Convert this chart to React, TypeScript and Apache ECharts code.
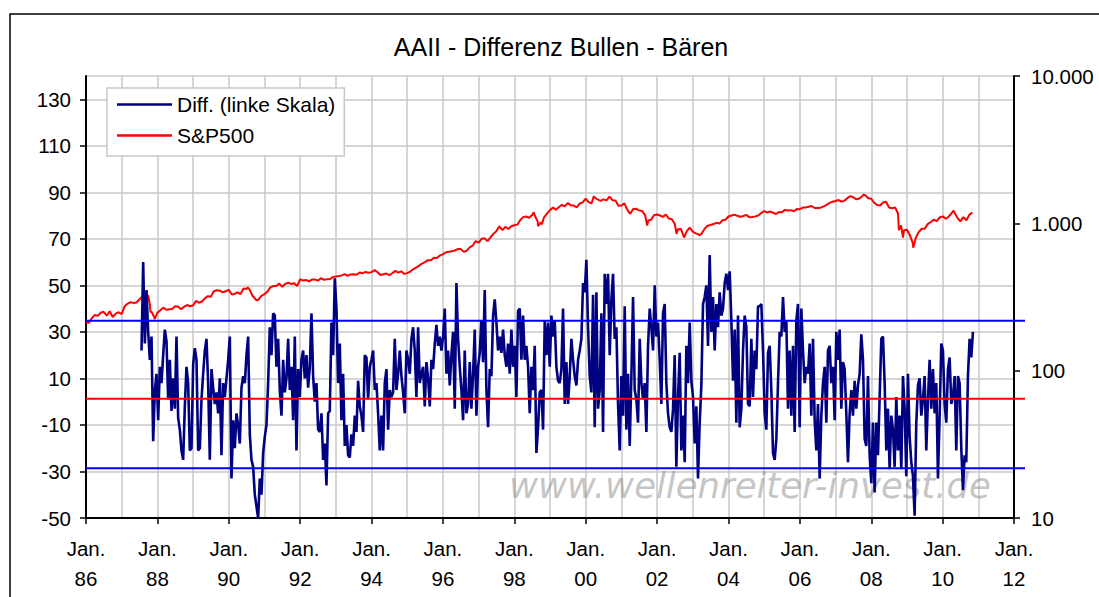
import React, { useEffect, useRef } from "react";
import * as echarts from "echarts";

const chartTitle = "AAII - Differenz Bullen - Bären";
const legendNames = ["Diff. (linke Skala)", "S&P500"];
const watermark = "www.wellenreiter-invest.de";

// AAII bull-bear spread readings (left scale), every ~17 days from the start date
const diffStart = "1987-07-23";
const diffStepDays = 17.05;
const diff1987_1993 = [
  22, 60, 25, 48, 30, 18, 28, -17, 5, 12,
  -8, 15, 8, 20, 31, 26, 1, 18, -4, 10,
  -3, 28, -7, -12, -21, -25, -2, 15, 8, -21,
  -20, 16, 23, 18, -21, -20, 1, 12, 22, 27,
  8, -25, 14, 6, -1, 4, -5, 10, -23, 8,
  2, 10, 18, 28, -33, -8, -20, -5, -10, -18,
  6, 11, 8, 20, 28, -14, -25, -28, -40, -45,
  -50, -33, -40, -22, -15, -10, 8, 32, 20, 38,
  37, 15, 27, 5, -6, 18, 4, 10, 27, 5,
  15, -8, 28, -21, 14, 2, 18, 22, 10, 20,
  6, 15, 38, 11, 0, 8, -12, -13, -5, -25,
  -18, -36, -5, -4, 34, 20, 53, 40, 8,
];
const diff1993_1999 = [
  25, -8, 12, -19, -10, -23, -24, -14, -19, -6,
  -13, 9, -2, -6, -13, 20, 19, 1, 15, 18,
  22, 5, 8, -5, -21, -6, -21, 8, 14, -12,
  5, 2, 4, 27, 5, 12, 22, 11, 4, -5,
  22, 18, 12, 27, 32, 22, 2, 32, 8, 12,
  15, -2, 17, 10, -2, 18, 14, 25, 33, 24,
  28, 22, 28, 40, 12, 22, 7, 20, 30, -3,
  51, 27, 15, 5, -8, 22, -5, -1, 17, -3,
  12, 31, -6, 15, 21, 35, 17, 48, 5, -11,
  14, 11, 37, 44, 34, 22, 28, 21, 31, 20,
  15, 25, 12, 31, 15, 24, 2, 39, 40, 18,
  37, 18, 24, 15, -5, 15, 5, 24, -22, -11,
  4, 5, -12, 35, 20, 34,
];
const diff1999_2005 = [
  15, 37, 28, 35, 15, 9, 8, 14, 40, -1,
  17, -1, 11, 27, 18, 11, 7, 18, 22, 27,
  51, 47, 61, 32, 11, 4, 46, -11, 47, -3,
  5, 38, -13, 55, 42, 55, 20, 44, 55, 27,
  32, -1, -21, 11, -6, 41, -12, 12, -19, 11,
  45, 5, 1, -9, 27, 8, 1, 8, -13, 24,
  40, 32, 22, 50, 28, 34, 18, -1, 38, 42,
  8, -5, -11, -13, -3, 20, -28, 2, 21, -21,
  -6, -26, 24, 8, 34, 9, 2, -18, -2, -33,
  -9, 7, 42, 45, 50, 24, 63, 30, 45, 22,
  42, 32, 47, 37, 40, 51, 55, 48, 56, 35,
  9, 31, -9, 37, -11, -3, 22, 37, 32, -1,
  -2, 27, 2, 22, 14, 41,
];
const diff2005_2010 = [
  41, 42, 22, -5, -12, 21, 24, 5, -22, -25,
  -16, 8, 30, 28, 45, 30, 35, -3, 22, -6,
  24, -13, 35, 42, -11, 40, 22, 8, 15, 12,
  25, -6, 27, -8, -21, -1, -33, -6, 8, 15,
  -9, 22, 24, 8, 15, -8, 30, 18, 31, -3,
  17, 14, -5, -26, -5, 5, -6, 9, -3, 7,
  12, 29, 18, -16, -19, 11, -23, -35, -9, -39,
  -9, -23, 2, 27, 28, 8, -21, -3, -29, -6,
  -12, -28, 2, -21, -6, -29, 11, -3, -32, 12,
  -15, -26, -32, -49, -9, 7, 10, -6, 1, 11,
  -21, 1, 18, -3, 14, -5, 8, -33, -6, 25,
  22, -1, -9, 14, 19, -1, 2, 11, -21, 11,
  8, -20, -38, -23, -26, 11, 27, 19, 30,
];

// S&P 500 (right, log scale): value at the start of each month
const spx1986_1990 = [
  211.3, 211.8, 226.9, 238.9, 235.5, 247.4, 250.8, 236.1, 252.9, 231.3, 243.9, 249.2,
  242.2, 274.1, 284.2, 291.7, 288.4, 290.1, 304.0, 318.7, 329.8, 321.8, 251.8, 230.3,
  247.1, 257.1, 267.8, 258.9, 261.3, 262.2, 273.5, 272.0, 261.5, 271.9, 279.0, 273.7,
  277.7, 297.5, 288.9, 294.9, 309.6, 320.5, 318.0, 346.1, 351.5, 349.2, 340.4, 346.0,
  353.4, 329.1, 331.9, 339.9, 330.8, 361.2, 358.0, 356.2, 322.6, 306.1, 304.0, 322.2,
];
const spx1991_1995 = [
  330.2, 343.9, 367.1, 375.2, 375.3, 389.8, 371.2, 387.8, 395.4, 387.9, 392.5, 375.2,
  417.1, 408.8, 412.7, 403.7, 414.9, 415.4, 408.1, 424.2, 414.0, 417.8, 418.7, 431.4,
  435.7, 438.8, 443.4, 451.7, 440.2, 450.2, 451.0, 448.1, 463.6, 458.9, 467.8, 461.8,
  466.5, 481.6, 467.1, 445.8, 450.9, 456.5, 444.3, 458.3, 475.5, 462.7, 472.4, 453.7,
  459.3, 470.4, 487.4, 500.7, 514.7, 533.4, 544.8, 562.1, 561.9, 584.4, 581.5, 605.4,
];
const spx1996_2000 = [
  615.9, 636.0, 640.4, 645.5, 654.2, 669.1, 670.6, 639.9, 652.0, 687.3, 705.3, 757.0,
  740.7, 786.2, 790.8, 757.1, 801.3, 848.3, 885.1, 954.3, 899.5, 947.3, 914.6, 955.4,
  970.4, 980.3, 1049.3, 1101.8, 1111.8, 1090.8, 1133.8, 1120.7, 957.3, 1017.0, 1098.7, 1163.6,
  1229.2, 1279.6, 1238.3, 1286.4, 1335.2, 1301.8, 1372.7, 1328.7, 1320.4, 1282.7, 1362.9, 1388.9,
  1469.3, 1394.5, 1366.4, 1498.6, 1452.4, 1420.6, 1454.6, 1430.8, 1517.7, 1436.5, 1429.4, 1315.2,
];
const spx2001_2005 = [
  1320.3, 1366.0, 1239.9, 1160.3, 1249.5, 1255.8, 1224.4, 1211.2, 1133.6, 1040.9, 1059.8, 1139.5,
  1148.1, 1130.2, 1106.7, 1147.4, 1076.9, 1067.1, 989.8, 911.6, 916.1, 815.3, 885.8, 936.3,
  879.8, 855.7, 841.2, 848.2, 916.9, 963.6, 974.5, 990.3, 1008.0, 996.0, 1050.7, 1058.2,
  1111.9, 1131.1, 1144.9, 1126.2, 1107.3, 1120.7, 1140.8, 1101.7, 1104.2, 1114.6, 1130.2, 1173.8,
  1211.9, 1181.3, 1203.6, 1180.6, 1156.9, 1191.5, 1191.3, 1234.2, 1220.3, 1228.8, 1207.0, 1249.5,
];
const spx2006_2010 = [
  1248.3, 1280.1, 1280.7, 1294.9, 1310.6, 1270.1, 1270.2, 1276.7, 1303.8, 1335.9, 1377.9, 1400.6,
  1418.3, 1438.2, 1406.8, 1420.9, 1482.4, 1530.6, 1503.4, 1455.3, 1474.0, 1526.8, 1549.4, 1481.1,
  1468.4, 1378.6, 1330.6, 1322.7, 1385.6, 1400.4, 1280.0, 1267.4, 1282.8, 1166.4, 968.8, 896.2,
  903.3, 825.9, 735.1, 797.9, 872.8, 919.1, 919.3, 987.5, 1020.6, 1057.1, 1036.2, 1095.6,
  1115.1, 1073.9, 1104.5, 1169.4, 1186.7, 1089.4, 1030.7, 1101.6, 1049.3, 1141.2, 1183.3,
];
const spxWeeklyExtremes: [string, number][] = [
  ["1987-08-21", 335.9], ["1987-10-16", 282.7], ["1987-10-23", 248.2], ["1987-12-04", 223.9],
  ["1990-07-13", 367.3], ["1990-10-12", 300.0], ["1998-07-17", 1186.8], ["1998-08-28", 1027.1],
  ["1998-10-09", 984.4], ["2000-03-24", 1527.5], ["2001-09-21", 965.8], ["2002-07-19", 847.8],
  ["2002-10-04", 800.6], ["2003-03-07", 828.9], ["2007-10-12", 1561.8], ["2008-10-10", 899.2],
  ["2008-11-21", 800.0], ["2009-03-06", 683.4], ["2010-04-23", 1217.3], ["2010-07-02", 1022.6],
];

// horizontal reference lines on the left scale: upper band, mean, lower band
const bandLevels = [34.8, 1.3, -28.6];
const bandColors = ["#0000FF", "#FF0000", "#0000FF"];

const leftAxis = { min: -50, max: 140, step: 20 };
const rightAxis = { min: 10, max: 10000 };
const xYears = { start: 1986, end: 2012, labelStep: 2 };

const FONT = "'Liberation Sans', Arial, sans-serif";
const DAY = 86400000;

function buildDiff() {
  const all = [...diff1987_1993, ...diff1993_1999, ...diff1999_2005, ...diff2005_2010];
  const t0 = Date.parse(diffStart + "T00:00:00Z");
  return all.map((v, i) => [t0 + i * diffStepDays * DAY, v]);
}

function buildSpx() {
  const groups: [number, number[]][] = [
    [1986, spx1986_1990],
    [1991, spx1991_1995],
    [1996, spx1996_2000],
    [2001, spx2001_2005],
    [2006, spx2006_2010],
  ];
  const pts: [number, number][] = [];
  groups.forEach(([y0, arr]) => {
    arr.forEach((v, i) => {
      pts.push([Date.UTC(y0 + Math.floor(i / 12), i % 12, 1), v]);
    });
  });
  spxWeeklyExtremes.forEach(([d, v]) => pts.push([Date.parse(d + "T00:00:00Z"), v]));
  pts.sort((a, b) => a[0] - b[0]);
  return pts;
}

function germanThousands(v: number) {
  return String(Math.round(v)).replace(/\B(?=(\d{3})+(?!\d))/g, ".");
}

export default function App() {
  const ref = useRef<HTMLDivElement>(null);

  useEffect(() => {
    document.body.style.margin = "0";
    if (!ref.current) return;
    const chart = echarts.init(ref.current, undefined, { renderer: "svg" });
    const xMin = Date.UTC(xYears.start, 0, 1);
    const xMax = Date.UTC(xYears.end, 0, 1);
    const xInterval = xYears.labelStep * 365.25 * DAY;
    const gridColor = "#c8c8c8";

    const option: any = {
      animation: false,
      backgroundColor: "#ffffff",
      textStyle: { fontFamily: FONT },
      grid: [
        { left: 86, right: 85, top: 76, bottom: 79, containLabel: false, outerBoundsMode: "none" },
        { left: 86, right: 74, top: 76, bottom: 79, containLabel: false, outerBoundsMode: "none" },
      ],
      legend: {
        show: true,
        data: legendNames.map((n) => ({ name: n, icon: "rect" })),
        orient: "vertical",
        left: 107,
        top: 88,
        itemWidth: 55,
        itemHeight: 2.5,
        itemGap: 10,
        padding: [6, 9, 10, 10],
        backgroundColor: "#ffffff",
        borderColor: "#c8c8c8",
        borderWidth: 1.5,
        selectedMode: false,
        textStyle: { fontSize: 21, color: "#000", fontFamily: FONT, lineHeight: 20 },
      },
      xAxis: [
        {
          type: "value",
          gridIndex: 0,
          min: xMin,
          max: xMax,
          interval: xInterval,
          axisLine: { show: true, onZero: false, lineStyle: { color: "#000", width: 2 } },
          axisTick: { show: true, inside: false, length: 6, lineStyle: { color: "#000", width: 1.5 } },
          axisLabel: {
            show: true,
            color: "#000",
            fontSize: 20.5,
            fontFamily: FONT,
            lineHeight: 30,
            margin: 15,
            showMinLabel: true,
            showMaxLabel: true,
            hideOverlap: false,
            formatter: (v: number) => {
              const y = new Date(v + DAY / 2).getUTCFullYear();
              return "Jan.\n" + String(y % 100).padStart(2, "0");
            },
          },
          splitLine: { show: true, lineStyle: { color: gridColor, width: 1.5 } },
          minorTick: { show: false, splitNumber: 2 },
          minorSplitLine: { show: true, lineStyle: { color: gridColor, width: 1.5 } },
        },
        { type: "value", gridIndex: 1, min: 0, max: 1, show: false },
      ],
      yAxis: [
        {
          type: "value",
          gridIndex: 0,
          position: "left",
          min: leftAxis.min,
          max: leftAxis.max,
          interval: leftAxis.step,
          axisLine: { show: true, onZero: false, lineStyle: { color: "#000", width: 2 } },
          axisTick: { show: true, inside: false, length: 6, lineStyle: { color: "#000", width: 1.5 } },
          axisLabel: {
            color: "#000",
            fontSize: 20.5,
            fontFamily: FONT,
            margin: 15,
            showMaxLabel: false,
            formatter: (v: number) => (v === leftAxis.max ? "" : String(v)),
          },
          splitLine: { show: true, lineStyle: { color: gridColor, width: 1.5 } },
        },
        {
          type: "log",
          logBase: 10,
          gridIndex: 0,
          position: "right",
          min: rightAxis.min,
          max: rightAxis.max,
          axisLine: { show: true, onZero: false, lineStyle: { color: "#000", width: 2 } },
          axisTick: { show: true, inside: false, length: 6, lineStyle: { color: "#000", width: 1.5 } },
          axisLabel: {
            color: "#000",
            fontSize: 20.5,
            fontFamily: FONT,
            margin: 17,
            formatter: (v: number) => germanThousands(v),
          },
          splitLine: { show: false },
          minorTick: { show: false },
        },
        { type: "value", gridIndex: 1, min: leftAxis.min, max: leftAxis.max, show: false },
      ],
      graphic: [
        {
          type: "rect",
          shape: { x: 10, y: 14, width: 1300, height: 800 },
          style: { fill: "none", stroke: "#000", lineWidth: 1.5 },
          silent: true,
          z: 10,
        },
        {
          type: "text",
          x: 561,
          y: 46.5,
          style: {
            text: chartTitle,
            align: "center",
            verticalAlign: "middle",
            fontSize: 25,
            fontFamily: FONT,
            fill: "#000",
          },
          z: 10,
        },
        {
          type: "text",
          x: 509,
          y: 485,
          silent: true,
          style: {
            text: watermark,
            align: "left",
            verticalAlign: "middle",
            fontSize: 35.5,
            fontStyle: "italic",
            fontWeight: "normal",
            fontFamily: "'DejaVu Sans', sans-serif",
            fill: "rgba(140,140,140,0.5)",
          },
          z: 1,
        },
      ],
      series: [
        {
          name: legendNames[1],
          type: "line",
          xAxisIndex: 0,
          yAxisIndex: 1,
          data: buildSpx(),
          showSymbol: false,
          symbol: "none",
          lineStyle: { color: "#FF0000", width: 2 },
          itemStyle: { color: "#FF0000" },
          z: 2,
          silent: true,
        },
        {
          name: legendNames[0],
          type: "line",
          xAxisIndex: 0,
          yAxisIndex: 0,
          data: buildDiff(),
          showSymbol: false,
          symbol: "none",
          lineStyle: { color: "#000080", width: 2.6 },
          itemStyle: { color: "#000080" },
          z: 3,
          silent: true,
        },
        ...bandLevels.map((lvl, i) => ({
          name: "band" + i,
          type: "line",
          xAxisIndex: 1,
          yAxisIndex: 2,
          data: [
            [0, lvl],
            [1, lvl],
          ],
          showSymbol: false,
          symbol: "none",
          lineStyle: { color: bandColors[i], width: 2 },
          itemStyle: { color: bandColors[i] },
          z: 4,
          silent: true,
        })),
      ],
    };

    chart.setOption(option);
    return () => chart.dispose();
  }, []);

  return <div ref={ref} style={{ width: 1099, height: 597 }} />;
}
